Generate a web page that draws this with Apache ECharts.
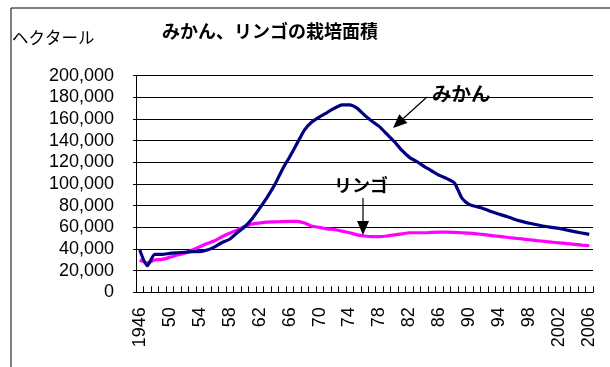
<!DOCTYPE html>
<html>
<head>
<meta charset="utf-8">
<script src="https://cdn.jsdelivr.net/npm/echarts@6/dist/echarts.min.js"></script>
<style>
  html, body { margin: 0; padding: 0; background: #fff; }
  #chart { width: 610px; height: 367px; }
</style>
</head>
<body>
<div id="chart"></div>
<script>
// Cultivated area (hectares), 1946-2006
const years = [];
for (let y = 1946; y <= 2006; y++) years.push(String(y));

const mikan = [
  39000, 24500, 35000, 35000, 36000, 36500, 37000, 37500, 37500, 39000,
  42000, 46000, 49000, 55000, 60500, 68000, 77500, 87700, 99000, 113000,
  125000, 137500, 150000, 157500, 162000, 166000, 170000, 173000, 173000, 170000,
  163600, 158000, 153000, 146000, 139000, 131000, 124600, 120600, 116000, 112000,
  108000, 105000, 101000, 87000, 81000, 79000, 77000, 74400, 72000, 70000,
  67500, 65500, 63700, 62400, 61000, 60000, 59000, 57500, 56000, 54800, 53500
];

const ringo = [
  29800, 27300, 29800, 30400, 32300, 34400, 36000, 39000, 42000, 45000,
  47600, 51300, 54500, 57500, 60500, 63000, 64000, 64800, 65000, 65300,
  65500, 65500, 64000, 61000, 60000, 58500, 58000, 56500, 55000, 53000,
  52000, 51500, 51500, 52000, 53000, 54000, 55000, 55000, 55000, 55300,
  55500, 55500, 55300, 55000, 54700, 54000, 53200, 52400, 51600, 50800,
  50000, 49300, 48500, 47700, 47000, 46300, 45700, 45000, 44300, 43600, 43000
];

const yTicks = { min: 0, max: 200000, step: 20000 };

const chart = echarts.init(document.getElementById('chart'), null, { renderer: 'canvas' });

const jp = '"Noto Sans CJK JP", sans-serif';
const num = '"Liberation Sans", Arial, sans-serif';

chart.setOption({
  animation: false,
  backgroundColor: '#fff',
  grid: { left: 136, right: 17, top: 75.7, bottom: 74.7, containLabel: false },
  xAxis: {
    type: 'category',
    data: years,
    boundaryGap: true,
    axisLine: { show: true, lineStyle: { color: '#000', width: 1 } },
    axisTick: { show: true, inside: true, length: 6, interval: 0, lineStyle: { color: '#000' } },
    axisLabel: {
      interval: 3,
      rotate: 90,
      margin: 15,
      fontSize: 18,
      fontFamily: num,
      color: '#000',
      formatter: function (v) {
        const n = Number(v);
        return (n === 1946 || n >= 2000) ? v : v.slice(2);
      }
    },
    splitLine: { show: false }
  },
  yAxis: {
    type: 'value',
    min: yTicks.min,
    max: yTicks.max,
    interval: yTicks.step,
    axisLine: { show: true, lineStyle: { color: '#000', width: 1 } },
    axisTick: { show: true, length: 3, lineStyle: { color: '#000' } },
    axisLabel: {
      margin: 22,
      fontSize: 18,
      fontFamily: num,
      color: '#000',
      formatter: function (v) { return v.toLocaleString('en-US'); }
    },
    splitLine: { show: true, lineStyle: { color: '#000', width: 1 } }
  },
  series: [
    {
      name: 'みかん',
      type: 'line',
      data: mikan,
      showSymbol: false,
      smooth: 0.2,
      lineStyle: { color: '#000080', width: 3.2 },
      z: 3
    },
    {
      name: 'リンゴ',
      type: 'line',
      data: ringo,
      showSymbol: false,
      smooth: 0.2,
      lineStyle: { color: '#FF00FF', width: 3.2 },
      z: 2
    }
  ],
  graphic: [
    // outer frame
    { type: 'rect', shape: { x: 11, y: 8, width: 700, height: 500 },
      style: { fill: 'none', stroke: '#000', lineWidth: 1 }, silent: true },
    { type: 'text', left: 162, top: 22,
      style: { text: 'みかん、リンゴの栽培面積', font: 'bold 18px ' + jp, fill: '#000' } },
    { type: 'text', left: 12, top: 29,
      style: { text: 'ヘクタール', font: '16.5px ' + jp, fill: '#000' } },
    // みかん label and arrow
    { type: 'text', left: 432, top: 84,
      style: { text: 'みかん', font: 'bold 19.5px ' + jp, fill: '#000' }, z: 10 },
    { type: 'line', shape: { x1: 427, y1: 97, x2: 401, y2: 120.5 },
      style: { stroke: '#000', lineWidth: 1.2 }, z: 10 },
    { type: 'polygon', shape: { points: [[393, 128], [407.4, 123.0], [399.3, 114.2]] },
      style: { fill: '#000' }, z: 10 },
    // リンゴ label and arrow
    { type: 'text', left: 334, top: 176,
      style: { text: 'リンゴ', font: 'bold 18px ' + jp, fill: '#000' }, z: 10 },
    { type: 'line', shape: { x1: 363, y1: 198, x2: 363, y2: 223 },
      style: { stroke: '#000', lineWidth: 1.2 }, z: 10 },
    { type: 'polygon', shape: { points: [[363, 235], [357, 221], [369, 221]] },
      style: { fill: '#000' }, z: 10 }
  ]
});
</script>
</body>
</html>
